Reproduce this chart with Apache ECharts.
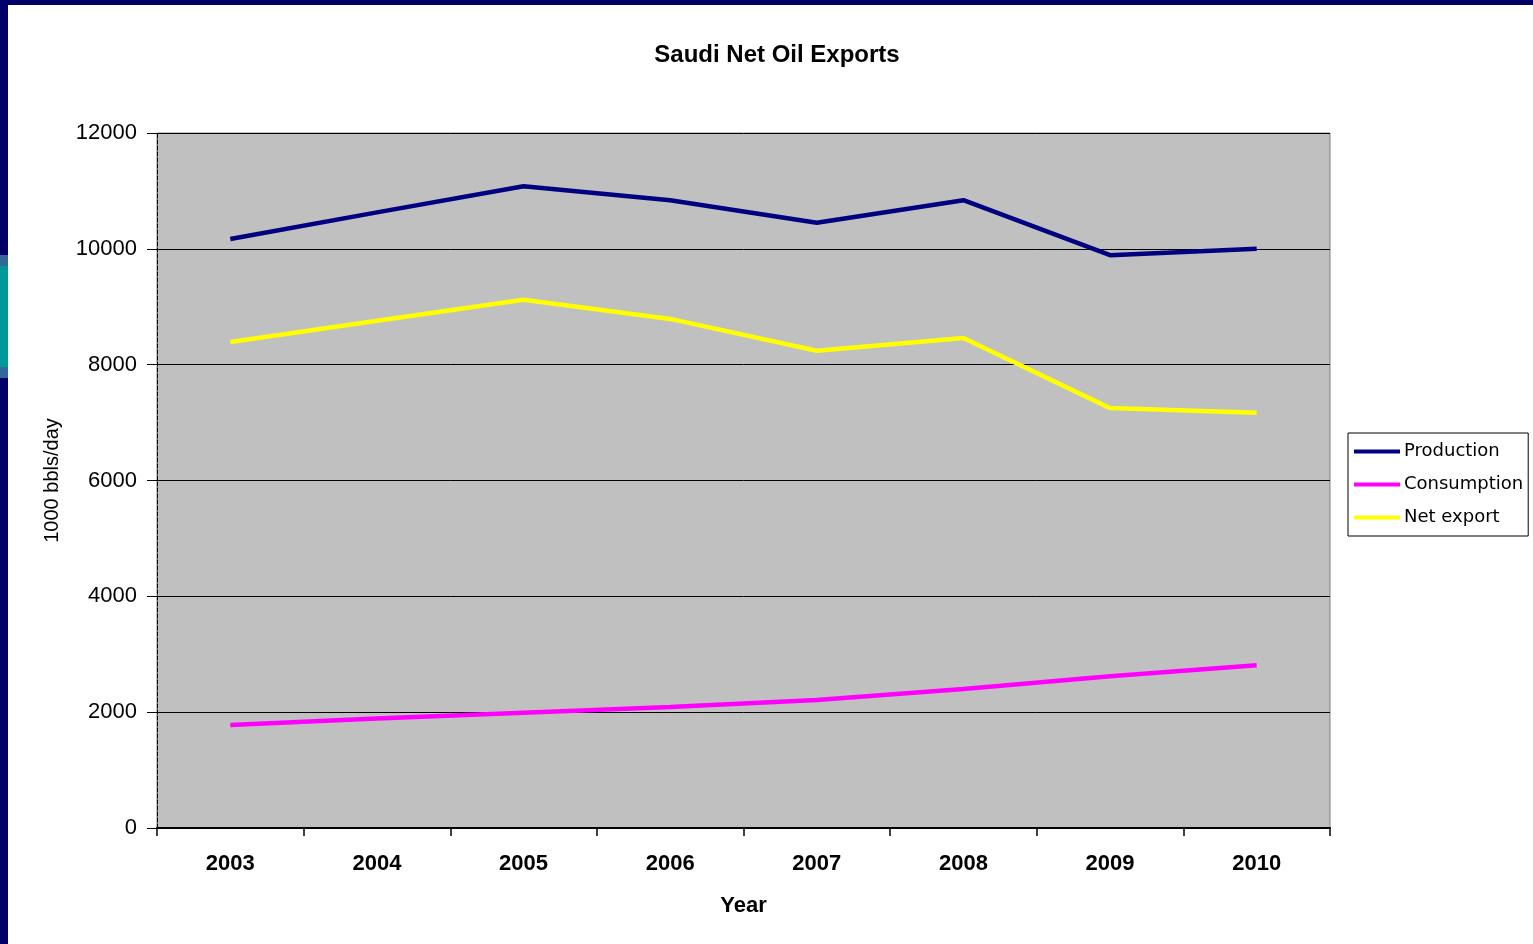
<!DOCTYPE html>
<html><head><meta charset="utf-8">
<script src="https://cdn.jsdelivr.net/npm/echarts@6/dist/echarts.min.js"></script>
<style>html,body{margin:0;padding:0;background:#fff}#c{width:1533px;height:944px}</style>
</head><body><div id="c"></div>
<script>
const years = ['2003','2004','2005','2006','2007','2008','2009','2010'];
const production = [10170, 10630, 11080, 10840, 10450, 10840, 9890, 10000];
const consumption = [1780, 1890, 1990, 2090, 2210, 2400, 2620, 2810];
const netExport = [8390, 8760, 9120, 8790, 8240, 8460, 7250, 7170];
const yTicks = [0, 2000, 4000, 6000, 8000, 10000, 12000];

const chart = echarts.init(document.getElementById('c'));
const FONT = 'Liberation Sans, Arial, sans-serif';
chart.setOption({
  backgroundColor: '#ffffff',
  animation: false,
  title: {
    text: 'Saudi Net Oil Exports', left: 772, top: 38, textAlign: 'center',
    textStyle: {fontFamily: FONT, fontSize: 24, fontWeight: 'bold', color: '#000'}
  },
  graphic: [
    {type: 'rect', shape: {x: 0, y: 0, width: 1533, height: 5}, style: {fill: '#000066'}, z: 100},
    {type: 'rect', shape: {x: 0, y: 0, width: 8, height: 944}, style: {fill: '#000066'}, z: 100},
    {type: 'rect', shape: {x: 0, y: 255, width: 8, height: 123}, style: {fill: '#336699'}, z: 101},
    {type: 'rect', shape: {x: 0, y: 266, width: 8, height: 101}, style: {fill: '#009999'}, z: 102}
  ],
  legend: {
    orient: 'vertical', left: 1348, top: 433, width: 180,
    padding: [8, 5, 8, 6], itemGap: 12, itemWidth: 46, itemHeight: 4,
    backgroundColor: '#ffffff', borderColor: '#000', borderWidth: 1,
    textStyle: {fontFamily: 'DejaVu Sans, sans-serif', fontSize: 18, color: '#000', padding: [0,0,0,-1], lineHeight: 21},
    icon: 'rect',
    data: ['Production', 'Consumption', 'Net export']
  },
  grid: {left: 157, top: 133, width: 1173, height: 695, show: true, backgroundColor: '#c0c0c0', borderColor: '#808080', borderWidth: 1},
  xAxis: {
    type: 'category', data: years, boundaryGap: true,
    name: 'Year', nameLocation: 'middle', nameGap: 67,
    nameTextStyle: {fontFamily: FONT, fontSize: 22, fontWeight: 'bold', color: '#000'},
    axisLine: {lineStyle: {color: '#000', width: 2}},
    axisTick: {show: true, length: 8, lineStyle: {color: '#000', width: 1.5}},
    axisLabel: {fontFamily: FONT, fontSize: 22, fontWeight: 'bold', color: '#000', margin: 25},
    splitLine: {show: false}
  },
  yAxis: {
    type: 'value', min: 0, max: 12000, interval: 2000,
    name: '1000 bbls/day', nameLocation: 'middle', nameGap: 95, nameRotate: 90,
    nameTextStyle: {fontFamily: FONT, fontSize: 20, color: '#000'},
    axisLine: {show: true, lineStyle: {color: '#000', width: 1, type: 'dashed'}},
    axisTick: {show: true, length: 10, lineStyle: {color: '#000'}},
    axisLabel: {fontFamily: FONT, fontSize: 22, color: '#000', margin: 20,
      formatter: v => yTicks.includes(v) ? String(v) : ''},
    splitLine: {show: true, lineStyle: {color: '#000', width: 1}}
  },
  series: [
    {name: 'Production', type: 'line', data: production, symbol: 'none', lineStyle: {color: '#000080', width: 4.5}, itemStyle: {color: '#000080'}},
    {name: 'Consumption', type: 'line', data: consumption, symbol: 'none', lineStyle: {color: '#ff00ff', width: 4.5}, itemStyle: {color: '#ff00ff'}},
    {name: 'Net export', type: 'line', data: netExport, symbol: 'none', lineStyle: {color: '#ffff00', width: 4.5}, itemStyle: {color: '#ffff00'}}
  ]
});
</script></body></html>
